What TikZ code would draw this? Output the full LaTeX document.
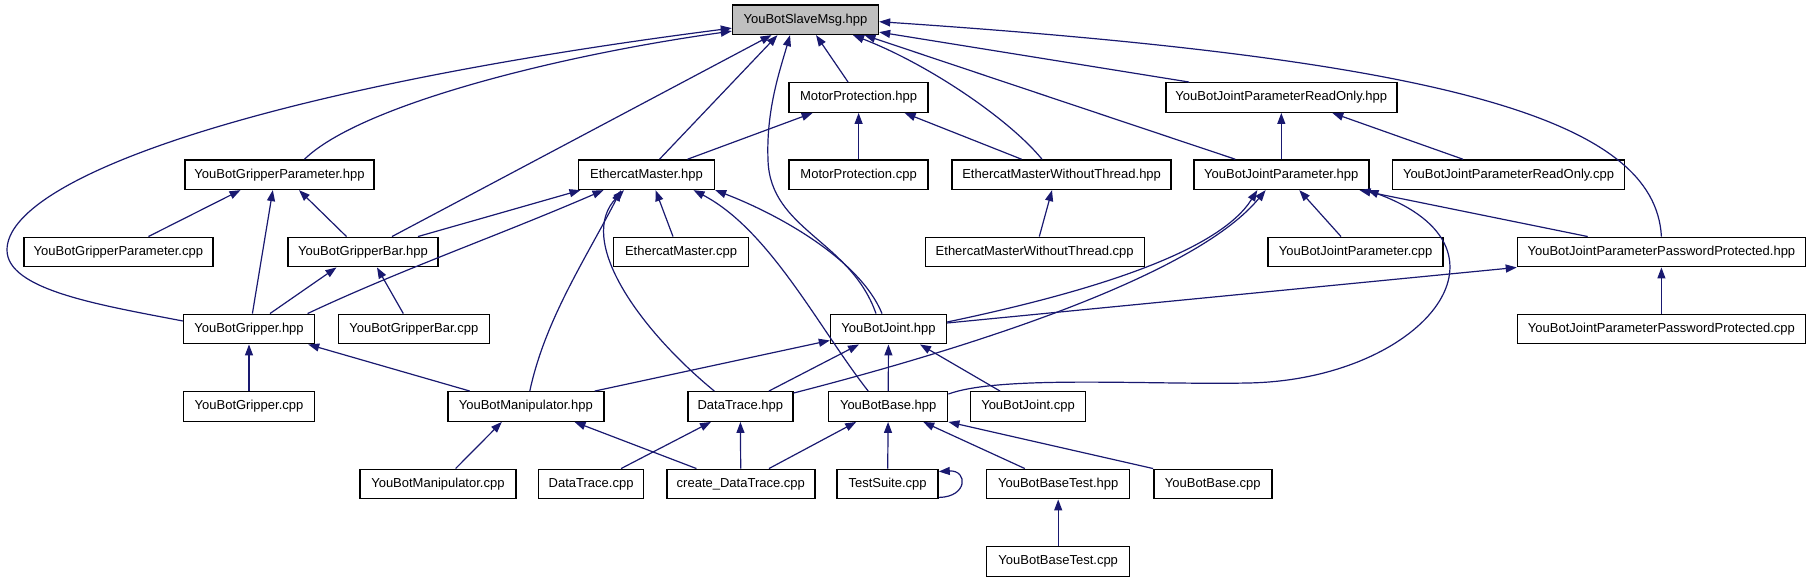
\documentclass[tikz,border=0pt]{standalone}
\usepackage{fontspec}
\setmainfont{Liberation Sans}
\usepackage{xcolor}
\usetikzlibrary{arrows.meta,calc}
\definecolor{edgeblue}{HTML}{191970}
\definecolor{maingray}{HTML}{BFBFBF}

\begin{document}
\begin{tikzpicture}[
    x=0.5pt, y=-0.5pt,
    >={Triangle[length=5.5pt,width=4pt]},
    file/.style={draw=black, line width=0.7pt, fill=white, inner sep=0pt, minimum height=14.75pt, font=\fontsize{6.5}{7.5}\selectfont},
    wd/.style={minimum width=0.5pt*#1},
    edge/.style={->, draw=edgeblue, line width=0.6pt}
]
\useasboundingbox (0,0) rectangle (1813,581);

\node[file, fill=maingray, wd=146] (slave) at (805.5,19.7) {YouBotSlaveMsg.hpp};

\node[file, wd=139] (motorh) at (858.6,97.5) {MotorProtection.hpp};
\node[file, wd=231] (roh) at (1281.3,97.5) {YouBotJointParameterReadOnly.hpp};

\node[file, wd=189] (gph) at (279.5,174.7) {YouBotGripperParameter.hpp};
\node[file, wd=136] (emh) at (646.5,174.7) {EthercatMaster.hpp};
\node[file, wd=139] (motorc) at (858.6,174.7) {MotorProtection.cpp};
\node[file, wd=219] (emwth) at (1061.6,174.7) {EthercatMasterWithoutThread.hpp};
\node[file, wd=175] (jph) at (1281.3,174.7) {YouBotJointParameter.hpp};
\node[file, wd=232] (roc) at (1508.5,174.7) {YouBotJointParameterReadOnly.cpp};

\node[file, wd=189] (gpc) at (118.4,252) {YouBotGripperParameter.cpp};
\node[file, wd=150] (gbh) at (363,252) {YouBotGripperBar.hpp};
\node[file, wd=135] (emc) at (681,252) {EthercatMaster.cpp};
\node[file, wd=219] (emwtc) at (1034.7,252) {EthercatMasterWithoutThread.cpp};
\node[file, wd=175] (jpc) at (1355.6,252) {YouBotJointParameter.cpp};
\node[file, wd=288] (pph) at (1661.4,252) {YouBotJointParameterPasswordProtected.hpp};

\node[file, wd=131] (gh) at (249,329) {YouBotGripper.hpp};
\node[file, wd=151] (gbc) at (413.8,329) {YouBotGripperBar.cpp};
\node[file, wd=116] (jh) at (888.5,329) {YouBotJoint.hpp};
\node[file, wd=288] (ppc) at (1661.4,329) {YouBotJointParameterPasswordProtected.cpp};

\node[file, wd=131] (gc) at (249,406.5) {YouBotGripper.cpp};
\node[file, wd=156] (mh) at (525.8,406.5) {YouBotManipulator.hpp};
\node[file, wd=105] (dth) at (740.3,406.5) {DataTrace.hpp};
\node[file, wd=119] (bh) at (888.2,406.5) {YouBotBase.hpp};
\node[file, wd=115.5] (jc) at (1028,406.5) {YouBotJoint.cpp};

\node[file, wd=156] (mc) at (437.9,484) {YouBotManipulator.cpp};
\node[file, wd=105] (dtc) at (591.1,484) {DataTrace.cpp};
\node[file, wd=148] (cdt) at (740.8,484) {create\_DataTrace.cpp};
\node[file, wd=101] (ts) at (887.6,484) {TestSuite.cpp};
\node[file, wd=143] (bth) at (1058.2,484) {YouBotBaseTest.hpp};
\node[file, wd=118] (bc) at (1212.8,484) {YouBotBase.cpp};

\node[file, wd=143] (btc) at (1058.2,561.5) {YouBotBaseTest.cpp};

\draw[edge] (motorh) -- (slave);
\draw[edge] ($(roh.north west)+(24,0)$) -- ($(slave.south east)+(0,-3)$);
\draw[edge] ($(emh.north)+(13,0)$) -- ($(slave.south)+(-28,0)$);
\draw[edge] ($(jph.north)+(-46,0)$) -- ($(slave.south)+(59,0)$);
\draw[edge] ($(gbh.north)+(29,0)$) -- ($(slave.south)+(-34,0)$);
\draw[edge] ($(gph.north)+(25,0)$) .. controls (360,105) and (560,55) .. ($(slave.south west)+(0,-4)$);
\draw[edge] ($(gh.west)+(0,-8)$) .. controls (100,305) and (7,290) .. (7,250) .. controls (7,180) and (250,90) .. ($(slave.south west)+(0,-7)$);
\draw[edge] ($(emwth.north)+(-19.6,0)$) .. controls (1010,120) and (930,65) .. ($(slave.south)+(47.5,0)$);
\draw[edge] ($(jh.north)+(-12.5,0)$) .. controls (850,240) and (770,230) .. (768,160) .. controls (766,110) and (780,70) .. ($(slave.south)+(-15.5,0)$);
\draw[edge] (pph.north) .. controls (1655,120) and (1450,60) .. ($(slave.east)+(0,2)$);

\draw[edge] ($(emh.north)+(41,0)$) -- ($(motorh.south)+(-46,0)$);
\draw[edge] (motorc) -- (motorh);
\draw[edge] ($(emwth.north)+(-40,0)$) -- ($(motorh.south)+(46,0)$);

\draw[edge] (jph) -- (roh);
\draw[edge] ($(roc.north)+(-45.5,0)$) -- ($(roh.south)+(51,0)$);

\draw[edge] ($(gpc.north)+(30,0)$) -- ($(gph.south)+(-39,0)$);
\draw[edge] ($(gbh.north)+(-16.5,0)$) -- ($(gph.south)+(19.5,0)$);
\draw[edge] ($(gh.north)+(3.4,0)$) -- ($(gph.south)+(-6.7,0)$);

\draw[edge] ($(gbh.north)+(55,0)$) -- ($(emh.south)+(-66,0)$);
\draw[edge] ($(emc.north)+(-8,0)$) -- ($(emh.south)+(9,0)$);
\draw[edge] ($(gh.north)+(58.6,0)$) .. controls (400,270) and (500,235) .. ($(emh.south)+(-43,0)$);
\draw[edge] ($(mh.north)+(4,0)$) .. controls (545,320) and (585,260) .. ($(emh.south)+(-25.5,0)$);
\draw[edge] ($(dth.north)+(-26,0)$) .. controls (640,330) and (575,240) .. ($(emh.south)+(-22.5,0)$);
\draw[edge] ($(bh.north)+(-20,0)$) .. controls (820,330) and (770,230) .. ($(emh.south)+(47,0)$);
\draw[edge] ($(jh.north)+(-6.5,0)$) .. controls (860,260) and (780,215) .. (emh.south east);

\draw[edge] ($(emwtc.north)+(4.6,0)$) -- ($(emwth.south)+(-9.6,0)$);

\draw[edge] ($(jpc.north)+(-14.6,0)$) -- ($(jph.south)+(18,0)$);
\draw[edge] ($(pph.north)+(-73.7,0)$) -- ($(jph.south east)+(-10,0)$);
\draw[edge] ($(bh.north east)+(0,3)$) .. controls (1000,375) and (1150,385) .. (1248,383) .. controls (1420,380) and (1530,250) .. ($(jph.south east)+(-2,0)$);
\draw[edge] ($(jh.east)+(0,-7)$) .. controls (1100,290) and (1220,250) .. ($(jph.south)+(-24,0)$);
\draw[edge] ($(dth.north east)+(0,2)$) .. controls (1000,340) and (1200,270) .. ($(jph.south)+(-15.7,0)$);

\draw[edge] (ppc) -- (pph);
\draw[edge] ($(jh.east)+(0,-6)$) -- (pph.south west);

\draw[edge] ($(gh.north)+(21,0)$) -- ($(gbh.south)+(-26.5,0)$);
\draw[edge] ($(gbc.north)+(-10.5,0)$) -- ($(gbh.south)+(14,0)$);

\draw[edge] (gc) -- (gh);
\draw[edge] ($(mh.north)+(-56,0)$) -- ($(gh.south east)+(-7,0)$);

\draw[edge] ($(mh.north)+(69,0)$) -- ($(jh.south west)+(0,-4)$);
\draw[edge] ($(dth.north)+(28.6,0)$) -- ($(jh.south)+(-29.5,0)$);
\draw[edge] (bh) -- (jh);
\draw[edge] ($(jc.north)+(-28,0)$) -- ($(jh.south)+(31.5,0)$);

\draw[edge] ($(mc.north)+(17.7,0)$) -- ($(mh.south)+(-24,0)$);
\draw[edge] ($(cdt.north)+(-44.4,0)$) -- ($(mh.south)+(48.7,0)$);

\draw[edge] ($(dtc.north)+(30,0)$) -- ($(dth.south)+(-29.3,0)$);
\draw[edge] (cdt) -- (dth);

\draw[edge] ($(cdt.north)+(28.2,0)$) -- ($(bh.south)+(-32,0)$);
\draw[edge] (ts) -- (bh);
\draw[edge] ($(bth.north)+(-33.4,0)$) -- ($(bh.south)+(35,0)$);
\draw[edge] (bc.north west) -- (bh.south east);

\draw[edge] ($(ts.south east)+(0,-2)$) .. controls (968,497) and (968,470) .. ($(ts.north east)+(0,3)$);

\draw[edge] (btc) -- (bth);
\end{tikzpicture}
\end{document}
